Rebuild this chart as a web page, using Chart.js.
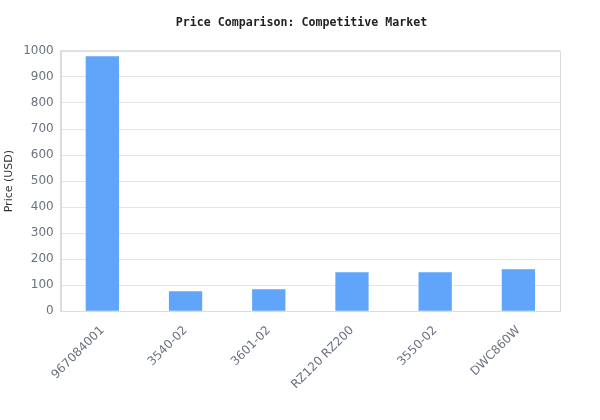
<!DOCTYPE html>
<html>
<head>
<meta charset="utf-8">
<script src="https://cdn.jsdelivr.net/npm/chart.js@4"></script>
<style>
html,body{margin:0;padding:0;background:#fff;}
#wrap{width:600px;height:420px;position:relative;}
</style>
</head>
<body>
<div id="wrap"><canvas id="c"></canvas></div>
<script>
const categories = ["967084001", "3540-02", "3601-02", "RZ120 RZ200", "3550-02", "DWC860W"];
const prices = [980, 77, 85, 150, 150, 162];
const yTicks = [0, 100, 200, 300, 400, 500, 600, 700, 800, 900, 1000];

const frame = {
  id: 'frame',
  afterDatasetsDraw(chart) {
    const a = chart.chartArea, ctx = chart.ctx;
    ctx.save();
    ctx.strokeStyle = '#dcdcdc';
    ctx.lineWidth = 1;
    ctx.strokeRect(Math.round(a.left) + 0.5, Math.round(a.top) + 0.5, Math.round(a.right - a.left), Math.round(a.bottom - a.top));
    ctx.restore();
  }
};

new Chart(document.getElementById('c'), {
  type: 'bar',
  data: {
    labels: categories,
    datasets: [{
      label: 'Price',
      data: prices,
      backgroundColor: '#60a5fa',
      borderWidth: 0,
      barPercentage: 0.5,
      categoryPercentage: 0.8
    }]
  },
  options: {
    responsive: true,
    maintainAspectRatio: false,
    animation: false,
    layout: { padding: { left: 3, right: 0, top: 0, bottom: 24 } },
    plugins: {
      legend: { display: false },
      tooltip: { enabled: false },
      title: {
        display: true,
        text: 'Price Comparison: Competitive Market',
        color: '#222',
        font: { family: 'DejaVu Sans Mono', size: 11.6, weight: 'bold' },
        padding: { top: 16, bottom: 21 }
      }
    },
    scales: {
      x: {
        grid: { display: false },
        border: { color: '#dcdcdc' },
        ticks: {
          color: '#6b7280',
          font: { family: 'DejaVu Sans', size: 12 },
          maxRotation: 45,
          minRotation: 45,
          padding: 4
        }
      },
      y: {
        min: 0,
        max: 1000,
        afterBuildTicks(axis) { axis.ticks = yTicks.map(v => ({ value: v })); },
        grid: { color: '#e5e5e5', drawTicks: false },
        border: { color: '#dcdcdc' },
        ticks: {
          color: '#6b7280',
          font: { family: 'DejaVu Sans', size: 12 },
          padding: 7,
          callback: (v) => String(v)
        },
        title: {
          display: true,
          text: 'Price (USD)',
          color: '#333',
          font: { family: 'DejaVu Sans', size: 11 },
          padding: { top: 0, bottom: 0 }
        }
      },
      spacer: {
        type: 'linear',
        position: 'right',
        grid: { display: false },
        border: { display: false },
        ticks: { display: false },
        afterFit(s) { s.width = 40; }
      }
    }
  },
  plugins: [frame]
});
</script>
</body>
</html>
